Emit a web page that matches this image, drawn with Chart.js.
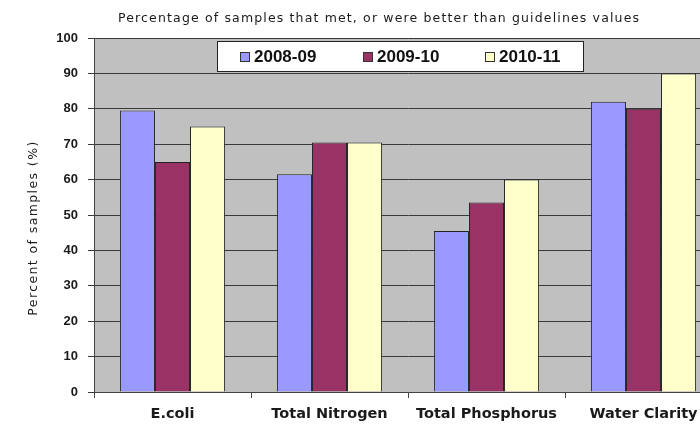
<!DOCTYPE html>
<html>
<head>
<meta charset="utf-8">
<script src="https://cdn.jsdelivr.net/npm/chart.js@4/dist/chart.umd.min.js"></script>
<style>
  html, body { margin: 0; padding: 0; background: #fff; overflow: hidden; }
  #wrap { width: 740px; height: 428px; position: relative; }
</style>
</head>
<body>
<div id="wrap"><canvas id="bar_Chart"></canvas></div>
<script>
var categories = ['E.coli', 'Total Nitrogen', 'Total Phosphorus', 'Water Clarity'];
var seriesNames = ['2008-09', '2009-10', '2010-11'];
var values0809 = [79.5, 61.5, 45.5, 82];
var values0910 = [65, 70.5, 53.5, 80];
var values1011 = [75, 70.5, 60, 90];
var yTicks = [0, 10, 20, 30, 40, 50, 60, 70, 80, 90, 100];

var titleText = 'Percentage of samples that met, or were better than guidelines values';
var yTitleText = 'Percent of samples (%)';
var wideFont = '"DejaVu Sans", sans-serif';
var numFont = 'Arial, "Liberation Sans", sans-serif';

// fond gris de la zone de tracé + titres + légende dans le cadre
var plotDeco = {
  id: 'plotDeco',
  beforeDraw(chart) {
    const ca = chart.chartArea, c = chart.ctx;
    c.save();
    c.fillStyle = '#c0c0c0';
    c.fillRect(ca.left, ca.top, ca.right - ca.left, ca.bottom - ca.top);
    c.restore();
  },
  afterDraw(chart) {
    const c = chart.ctx;
    c.save();
    c.fillStyle = '#1a1a1a';
    c.font = '12.5px ' + wideFont;
    c.letterSpacing = '1.15px';
    c.textAlign = 'left';
    c.textBaseline = 'middle';
    c.fillText(titleText, 118, 19);

    // titre de l'axe y, écrit à la main pour l'espacement des lettres
    c.save();
    c.translate(34, 228);
    c.rotate(-Math.PI / 2);
    c.letterSpacing = '1.4px';
    c.textAlign = 'center';
    c.fillText(yTitleText, 0, 0);
    c.restore();

    // légende
    c.letterSpacing = '0px';
    const bx = 217, by = 41, bw = 366, bh = 30;
    c.fillStyle = '#fff';
    c.fillRect(bx, by, bw, bh);
    c.strokeStyle = '#222';
    c.lineWidth = 1;
    c.strokeRect(bx + 0.5, by + 0.5, bw, bh);
    c.font = 'bold 17px ' + numFont;
    const xs = [240, 363, 485];
    chart.data.datasets.forEach((ds, i) => {
      c.fillStyle = ds.backgroundColor;
      c.fillRect(xs[i], by + 11, 10, 10);
      c.strokeStyle = '#333';
      c.strokeRect(xs[i] + 0.5, by + 11.5, 9, 9);
      c.fillStyle = '#111';
      c.fillText(ds.label, xs[i] + 14, by + 16);
    });
    c.restore();
  }
};

const ctx_bar = document.getElementById('bar_Chart').getContext('2d');
var myChartBar = new Chart(ctx_bar, {
  type: 'bar',
  data: {
    labels: categories,
    datasets: [{
      label: seriesNames[0],
      data: values0809,
      backgroundColor: '#9999ff',
      borderColor: '#222',
      borderWidth: 1
    }, {
      label: seriesNames[1],
      data: values0910,
      backgroundColor: '#993366',
      borderColor: '#222',
      borderWidth: 1
    }, {
      label: seriesNames[2],
      data: values1011,
      backgroundColor: '#ffffcc',
      borderColor: '#222',
      borderWidth: 1
    }]
  },
  options: {
    responsive: true,
    maintainAspectRatio: false,
    animation: false,
    layout: { padding: { top: 38, right: 18, bottom: 0, left: 0 } },
    plugins: {
      legend: { display: false },
      tooltip: { enabled: false }
    },
    datasets: {
      bar: { barPercentage: 1, categoryPercentage: 0.67 }
    },
    scales: {
      x: {
        afterFit: s => { s.height = 36; },
        grid: { display: true, drawOnChartArea: false, offset: true, color: '#444', tickLength: 6 },
        border: { color: '#444' },
        ticks: { color: '#1a1a1a', padding: 8, font: { family: wideFont, size: 14.5, weight: 'bold' } }
      },
      y: {
        min: 0,
        max: 100,
        afterFit: s => { s.width = 94; },
        afterBuildTicks: s => { s.ticks = yTicks.map(v => ({ value: v })); },
        grid: { color: '#3a3a3a', tickLength: 6 },
        border: { color: '#444' },
        ticks: { color: '#1a1a1a', padding: 10, font: { family: numFont, size: 13, weight: 'bold' } }
      }
    }
  },
  plugins: [plotDeco]
});
</script>
</body>
</html>
